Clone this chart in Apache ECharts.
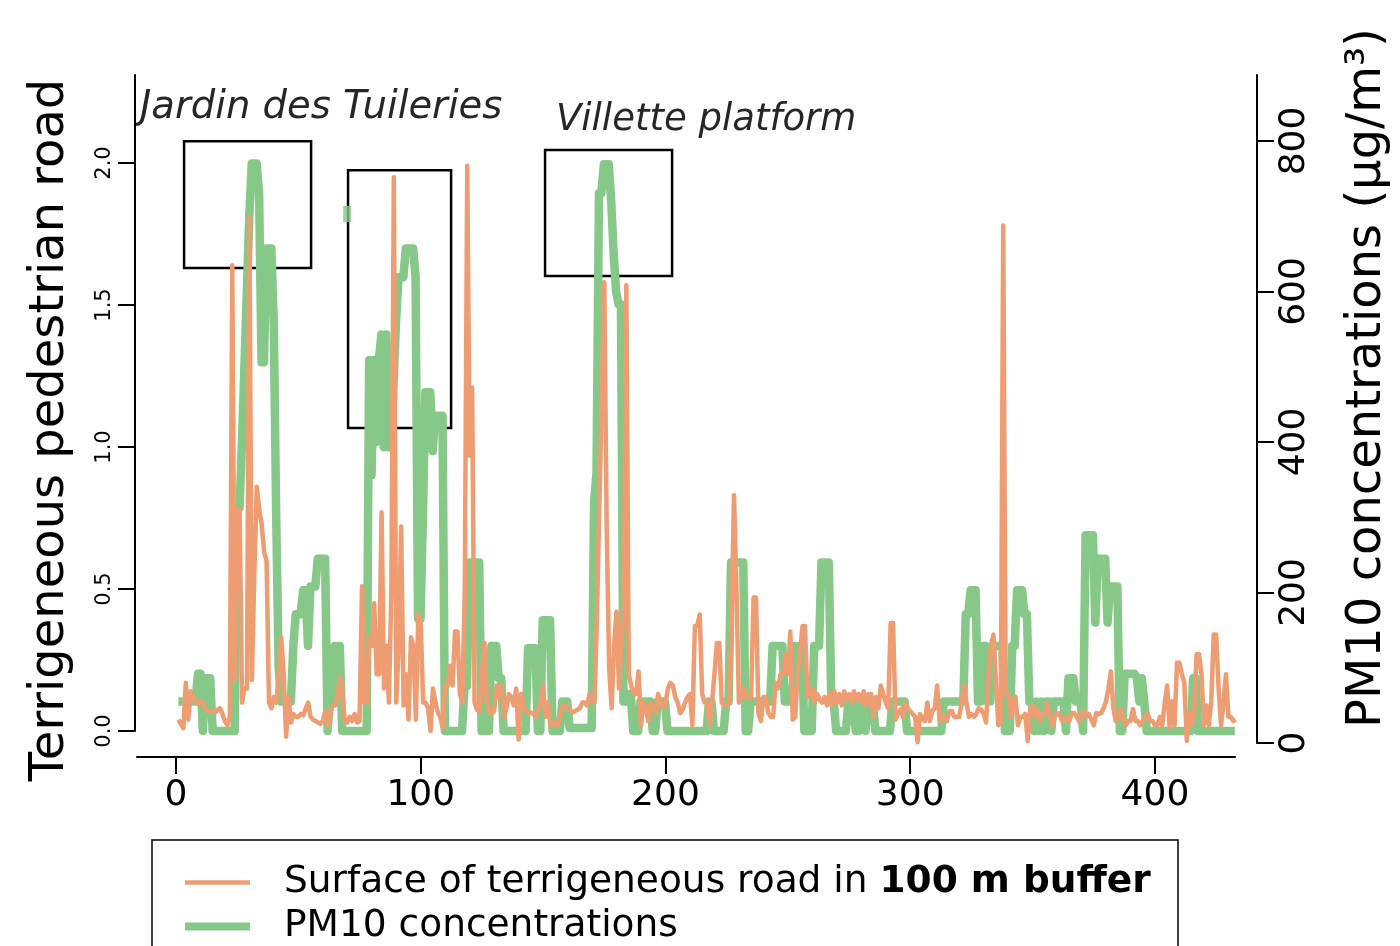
<!DOCTYPE html>
<html><head><meta charset="utf-8">
<script src="https://cdn.jsdelivr.net/npm/echarts@6/dist/echarts.min.js"></script>
<style>html,body{margin:0;padding:0;background:#fff}#c{width:1400px;height:946px}</style>
</head><body><div id="c"></div>
<script>
// Surface of terrigeneous road in 100 m buffer (left axis), one value per observation index 1..433
const terrigenous = [
0.04,0.025,0.01,0.17,0.04,0.14,0.12,0.1,0.095,0.105,
0.1,0.08,0.07,0.07,0.07,0.065,0.075,0.08,0.06,0.035,
0.02,0.05,1.64,0.18,0.78,0.78,0.1,0.15,0.15,1.81,
0.18,0.55,0.86,0.78,0.73,0.63,0.6,0.1,0.08,0.12,
0.1,0.2,0.33,0.2,-0.02,0.12,0.03,0.06,0.05,0.05,
0.06,0.055,0.08,0.1,0.05,0.04,0.035,0.03,0.025,0.035,
0.07,0.02,0.06,0.09,0.09,0.12,0.19,0.13,0.035,0.03,
0.05,0.035,0.06,0.03,0.035,0.51,0.1,0.1,0.33,0.3,
0.45,0.2,0.2,0.77,0.15,0.3,0.1,0.5,1.95,0.1,
0.3,0.72,0.09,0.2,0.04,0.33,0.3,0.04,0.41,0.38,
0.1,0.1,0.08,0.0,0.15,0.1,0.065,0.05,0.01,0.16,
0.16,0.23,0.16,0.35,0.35,0.13,0.1,0.5,1.99,0.97,
1.21,0.1,0.075,0.07,0.2,0.31,0.1,0.065,0.06,0.07,
0.16,0.12,0.16,0.05,0.08,0.13,0.12,0.09,0.15,-0.03,
0.13,0.09,0.07,0.065,0.065,0.06,0.05,0.075,0.1,0.16,
0.05,0.1,0.02,0.02,0.03,0.02,0.06,0.09,0.09,0.08,
0.075,0.065,0.07,0.075,0.08,0.1,0.1,0.09,0.13,0.11,
0.1,0.4,0.8,1.18,1.58,0.7,0.22,0.08,0.3,0.42,
0.15,0.3,0.45,1.57,0.2,0.16,0.13,0.13,0.21,0.02,
0.1,0.08,0.035,0.1,0.09,0.065,0.13,0.1,0.08,0.1,
0.15,0.17,0.16,0.12,0.1,0.063,0.075,0.1,0.12,0.13,
0.02,0.37,0.37,0.41,0.13,0.1,0.1,0.02,0.1,0.2,
0.31,0.31,0.1,0.09,0.09,0.1,0.4,0.83,0.5,0.1,
0.12,0.15,0.12,0.12,0.12,0.47,0.47,0.06,0.035,0.12,
0.12,0.065,0.05,0.05,0.17,0.15,0.2,0.2,0.27,0.2,
0.35,0.04,0.05,0.2,0.28,0.37,0.37,0.12,0.13,0.15,
0.1,0.13,0.11,0.1,0.12,0.09,0.13,0.09,0.14,0.1,
0.13,0.09,0.14,0.11,0.13,0.1,0.14,0.11,0.13,0.1,
0.14,0.09,0.13,0.13,0.05,0.12,0.08,0.16,0.13,0.1,
0.08,0.38,0.38,0.04,0.06,0.075,0.05,0.1,0.08,0.07,
0.06,0.05,-0.04,0.06,0.04,0.035,0.1,0.035,0.07,0.08,
0.16,0.035,0.05,0.05,0.035,0.07,0.07,0.05,0.05,0.05,
0.1,0.16,0.1,0.05,0.06,0.05,0.06,0.08,0.075,0.06,
0.03,0.2,0.3,0.34,0.18,0.02,0.03,1.78,0.13,0.13,
0.05,0.1,0.12,0.02,0.05,0.05,0.06,-0.035,0.08,0.09,
0.05,0.075,0.035,0.06,0.063,0.1,0.05,0.02,0.05,0.06,
0.063,0.035,0.04,0.05,0.035,0.063,0.063,0.05,0.035,0.063,
0.07,0.05,0.06,0.04,0.02,0.063,0.06,0.063,0.08,0.105,
0.15,0.21,0.08,0.035,0.06,0.077,0.035,0.02,0.035,0.035,
0.077,0.035,0.035,0.02,0.035,0.05,0.063,0.035,0.035,0.02,
0.02,0.05,0.02,0.1,0.16,0.01,0.105,0.02,0.24,0.24,
0.2,0.17,-0.035,0.063,0.02,0.063,0.27,0.27,0.2,0.02,
0.09,0.02,0.105,0.34,0.34,0.15,0.02,0.1,0.2,0.05,
0.05,0.035,0.04
];
// PM10 concentrations (right axis, µg/m³), one value per observation index 1..433
const pm10 = [
55,55,55,55,55,55,55,55,92,92,
16,86,86,86,16,16,16,16,16,16,
16,16,16,16,313,313,399,500,600,700,
770,770,770,730,506,506,657,657,657,560,
300,100,55,55,55,55,55,129,171,171,
171,203,203,129,208,208,208,245,245,245,
245,16,55,55,129,129,129,16,16,16,
16,16,16,16,16,16,16,16,509,356,
509,400,509,543,393,543,393,393,480,560,
619,619,619,657,657,657,657,619,165,165,
300,466,466,466,388,435,435,435,435,16,
16,16,16,16,16,16,16,76,76,240,
240,240,240,240,16,16,16,16,129,129,
129,86,86,16,16,16,16,16,16,16,
16,16,16,126,126,126,126,16,16,163,
163,163,163,16,16,16,16,55,55,55,
20,20,20,20,20,20,20,20,20,20,
319,360,731,731,769,769,769,720,650,600,
583,583,55,55,65,65,16,16,16,55,
55,55,55,55,16,16,55,55,55,55,
16,16,16,16,16,16,16,16,16,16,
16,16,16,16,16,16,16,55,55,16,
16,16,16,16,55,55,240,240,240,240,
240,240,16,16,55,55,55,55,55,55,
55,55,55,129,129,129,129,129,55,55,
55,55,129,86,129,129,16,16,16,16,
129,129,129,240,240,240,240,55,55,16,
16,16,16,16,55,55,55,16,16,55,
55,16,55,55,55,16,16,16,16,16,
16,16,55,55,55,55,55,55,16,16,
16,16,16,16,16,16,16,16,16,16,
16,16,16,55,55,55,55,55,55,55,
55,55,171,171,203,203,203,55,55,129,
129,55,55,129,129,129,129,129,16,16,
16,129,129,203,203,203,171,171,55,55,
16,55,16,55,16,55,55,16,55,55,
55,55,55,16,86,86,86,55,55,55,
16,276,276,276,276,160,245,245,245,245,
160,208,208,208,208,16,16,92,92,92,
92,92,86,55,86,55,16,16,16,16,
16,16,16,16,16,16,16,16,16,16,
16,16,16,16,16,86,86,16,16,16,
16,16,16,16,16,16,16,16,16,16,
16,16,16
];
// a lone PM10 reading drawn apart from the line (index, value)
const pm10Isolated = [[70, 703]];
const xTicks = [0, 100, 200, 300, 400];
const leftTicks = [0, 0.5, 1, 1.5, 2];
const rightTicks = [0, 200, 400, 600, 800];
// highlighted zones in data units: [xStart, xEnd, yLow, yHigh] on the left axis
const zoneBoxes = [[3.3, 55.2, 1.63, 2.077], [70.3, 112.4, 1.067, 1.975], [150.8, 202.7, 1.602, 2.046]];
const zoneNames = ['Jardin des Tuileries', 'Villette platform'];
const seriesNames = ['Surface of terrigeneous road in 100 m buffer', 'PM10 concentrations'];

const FONT = '"DejaVu Sans"';
const ORANGE = '#ee9c72';
const GREEN = '#86c887';
const chart = echarts.init(document.getElementById('c'), null, {renderer: 'canvas'});
const option = {
  animation: false,
  backgroundColor: '#fff',
  textStyle: {fontFamily: FONT},
  grid: [
    {left: 137, right: 165, top: 75, bottom: 215},
    {left: 137, right: 165, top: 75, bottom: 203}
  ],
  xAxis: [
    {type: 'value', gridIndex: 0, min: -15.93, max: 432.7, offset: 26,
     axisLine: {show: true, onZero: false, lineStyle: {color: '#000', width: 2}},
     axisTick: {show: true, length: 17, customValues: xTicks, lineStyle: {color: '#000', width: 2}},
     axisLabel: {customValues: xTicks, fontSize: 36, color: '#000', margin: 21, fontFamily: FONT},
     splitLine: {show: false}},
    {type: 'value', gridIndex: 1, min: -15.93, max: 432.7, show: false}
  ],
  yAxis: [
    {type: 'value', gridIndex: 0, position: 'left', offset: 2, min: 0, max: 2.31,
     name: 'Terrigeneous pedestrian road', nameLocation: 'middle', nameRotate: 90, nameGap: 60,
     nameTextStyle: {fontSize: 48, color: '#000', fontFamily: FONT, padding: [0, 54, 0, 0]},
     axisLine: {show: true, onZero: false, lineStyle: {color: '#000', width: 2}},
     axisTick: {show: true, length: 17, customValues: leftTicks, lineStyle: {color: '#000', width: 2}},
     axisLabel: {customValues: leftTicks, rotate: 90, fontSize: 21, color: '#000', margin: 20, fontFamily: FONT,
       formatter: v => v.toFixed(1)},
     splitLine: {show: false}},
    {type: 'value', gridIndex: 1, position: 'right', offset: 23, min: 0, max: 887.7,
     name: 'PM10 concentrations (µg/m³)', nameLocation: 'middle', nameRotate: 90, nameGap: 87,
     nameTextStyle: {fontSize: 48, color: '#000', fontFamily: FONT, padding: [0, 0, 0, 62]},
     axisLine: {show: true, onZero: false, lineStyle: {color: '#000', width: 2}},
     axisTick: {show: true, length: 17, customValues: rightTicks, lineStyle: {color: '#000', width: 2}},
     axisLabel: {customValues: rightTicks, rotate: 90, fontSize: 36, color: '#000', margin: 20, fontFamily: FONT},
     splitLine: {show: false}}
  ],
  legend: {
    orient: 'vertical', left: 185, top: 862, height: 300, padding: 0, itemWidth: 65, itemHeight: 8, itemGap: 3,
    data: [
      {name: seriesNames[0], icon: 'path://M0,0H65V4.5H0Z'},
      {name: seriesNames[1], icon: 'path://M0,0H65V8H0Z'}
    ],
    formatter: n => n === seriesNames[0]
      ? '{n|Surface of terrigeneous road in }{b|100 m buffer}'
      : '{n|' + n + '}',
    textStyle: {fontSize: 37.5, color: '#000', fontFamily: FONT, padding: [0, 0, 0, 29], lineHeight: 41,
      rich: {n: {fontSize: 37.5, color: '#000', fontFamily: FONT, lineHeight: 41},
             b: {fontSize: 37.5, color: '#000', fontFamily: FONT, fontWeight: 'bold', lineHeight: 41}}}
  },
  graphic: [
    {type: 'rect', shape: {x: 152, y: 840, width: 1026, height: 140}, style: {fill: 'none', stroke: '#000', lineWidth: 1.5}, silent: true},
    {type: 'text', x: 140, y: 108, style: {text: zoneNames[0], font: 'italic 38.5px "DejaVu Sans"', fill: '#262626', align: 'left', verticalAlign: 'middle'}},
    {type: 'text', x: 556, y: 120, style: {text: zoneNames[1], font: 'italic 37px "DejaVu Sans"', fill: '#262626', align: 'left', verticalAlign: 'middle'}}
  ],
  series: [
    {name: seriesNames[1], type: 'line', xAxisIndex: 1, yAxisIndex: 1, z: 2,
     data: pm10.map((v, i) => [i + 1, v]), showSymbol: false, clip: false,
     color: GREEN, itemStyle: {color: GREEN},
     lineStyle: {color: GREEN, width: 8.5, join: 'round'}},
    {name: 'PM10 isolated', type: 'scatter', xAxisIndex: 1, yAxisIndex: 1, z: 2,
     data: pm10Isolated, symbol: 'rect', symbolSize: [8, 16], itemStyle: {color: GREEN}},
    {name: seriesNames[0], type: 'line', xAxisIndex: 0, yAxisIndex: 0, z: 3,
     data: terrigenous.map((v, i) => [i + 1, v]), showSymbol: false, clip: false,
     color: ORANGE, itemStyle: {color: ORANGE},
     lineStyle: {color: ORANGE, width: 4.5, join: 'round'},
     markArea: {silent: true, itemStyle: {color: 'rgba(0,0,0,0)', borderColor: '#000', borderWidth: 2.5},
       data: zoneBoxes.map(b => [{coord: [b[0], b[3]]}, {coord: [b[1], b[2]]}])}}
  ]
};
chart.setOption(option);
</script></body></html>
